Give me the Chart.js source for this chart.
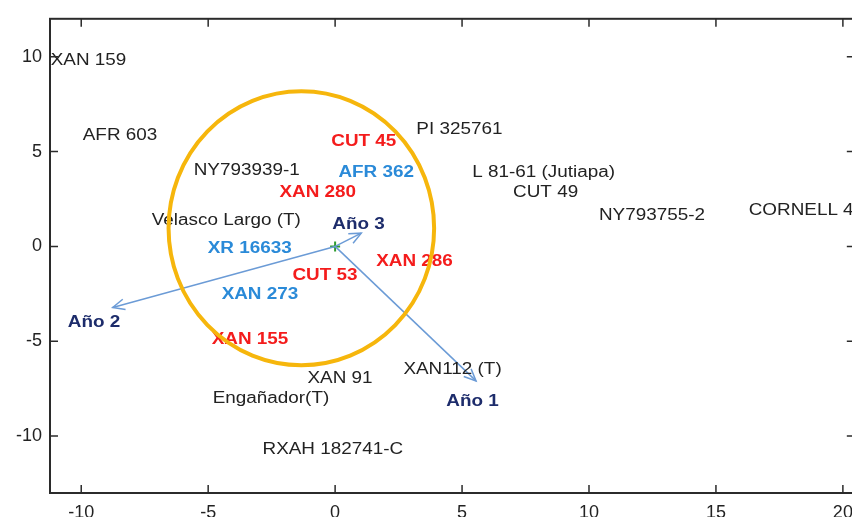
<!DOCTYPE html>
<html>
<head>
<meta charset="utf-8">
<script src="https://cdn.jsdelivr.net/npm/chart.js@4.4.0/dist/chart.umd.min.js"></script>
<style>
  html, body { margin: 0; padding: 0; background: #fff; overflow: hidden; }
  canvas { display: block; }
</style>
</head>
<body>
<canvas id="biplot" width="862" height="517"></canvas>
<script>
// === DATA ===
const blackNames = ["XAN 159", "AFR 603", "NY793939-1", "Velasco Largo (T)", "PI 325761", "L 81-61 (Jutiapa)",
  "CUT 49", "NY793755-2", "CORNELL 49242", "XAN 91", "Engañador(T)", "XAN112 (T)", "RXAH 182741-C"];
const blackX = [-11.2, -9.94, -5.57, -7.22, 3.2, 5.4, 7.01, 10.39, 16.29, -1.09, -4.82, 2.69, -2.86];
const blackY = [9.8, 5.83, 4.0, 1.38, 6.14, 3.89, 2.85, 1.64, 1.9, -6.99, -8.02, -6.52, -10.69];

const redNames = ["CUT 45", "XAN 280", "XAN 286", "CUT 53", "XAN 155"];
const redX = [-0.15, -2.19, 1.62, -1.68, -4.86];
const redY = [5.51, 2.85, -0.82, -1.55, -4.9];

const blueNames = ["AFR 362", "XR 16633", "XAN 273"];
const blueX = [0.13, -5.02, -4.47];
const blueY = [3.89, -0.14, -2.54];

// year vectors: arrow tips and their labels
const yearNames = ["Año 1", "Año 2", "Año 3"];
const yearTipX = [5.55, -8.76, 1.03];
const yearTipY = [-7.09, -3.22, 0.7];
const yearLabelX = [4.38, -10.53, -0.11];
const yearLabelY = [-8.18, -4.03, 1.17];

// highlighted group (ellipse)
const ellipseCenter = [-1.33, 0.96];
const ellipseRadius = [5.23, 7.22];

const xTickValues = [-10, -5, 0, 5, 10, 15, 20];
const yTickValues = [-10, -5, 0, 5, 10];

const pts = (xs, ys) => xs.map((x, i) => ({ x: x, y: ys[i] }));
const STRETCH = 1.18;

// === PLUGINS ===
const framePlugin = {
  id: "frame",
  afterDraw(chart) {
    const { ctx, chartArea: a, scales } = chart;
    ctx.save();
    ctx.strokeStyle = "#2b2b2b";
    ctx.lineWidth = 2;
    ctx.strokeRect(a.left, a.top, a.right - a.left, a.bottom - a.top);
    ctx.lineWidth = 1.5;
    const tl = 8;
    scales.x.ticks.forEach(t => {
      const px = scales.x.getPixelForValue(t.value);
      ctx.beginPath();
      ctx.moveTo(px, a.bottom); ctx.lineTo(px, a.bottom - tl);
      ctx.moveTo(px, a.top); ctx.lineTo(px, a.top + tl);
      ctx.stroke();
    });
    scales.y.ticks.forEach(t => {
      const py = scales.y.getPixelForValue(t.value);
      ctx.beginPath();
      ctx.moveTo(a.left, py); ctx.lineTo(a.left + tl, py);
      ctx.moveTo(a.right, py); ctx.lineTo(a.right - tl, py);
      ctx.stroke();
    });
    ctx.restore();
  }
};

const textPlugin = {
  id: "pointText",
  afterDatasetsDraw(chart) {
    const { ctx } = chart;
    chart.data.datasets.forEach((ds, di) => {
      if (!ds.names) return;
      const meta = chart.getDatasetMeta(di);
      ctx.save();
      ctx.font = ds.font;
      ctx.fillStyle = ds.textColor;
      ctx.textAlign = "left";
      ctx.textBaseline = "middle";
      meta.data.forEach((el, i) => {
        ctx.save();
        ctx.translate(el.x, el.y);
        ctx.scale(STRETCH, 1);
        ctx.fillText(ds.names[i], 0, 0);
        ctx.restore();
      });
      ctx.restore();
    });
  }
};

const arrowPlugin = {
  id: "arrowHeads",
  afterDatasetsDraw(chart) {
    const { ctx } = chart;
    chart.data.datasets.forEach((ds, di) => {
      if (!ds.isArrow) return;
      const meta = chart.getDatasetMeta(di);
      const p0 = meta.data[0], p1 = meta.data[1];
      const ang = Math.atan2(p1.y - p0.y, p1.x - p0.x);
      const len = 13, spread = 0.42;
      ctx.save();
      ctx.strokeStyle = ds.borderColor;
      ctx.lineWidth = 1.5;
      ctx.beginPath();
      ctx.moveTo(p1.x - len * Math.cos(ang - spread), p1.y - len * Math.sin(ang - spread));
      ctx.lineTo(p1.x, p1.y);
      ctx.lineTo(p1.x - len * Math.cos(ang + spread), p1.y - len * Math.sin(ang + spread));
      ctx.stroke();
      ctx.restore();
    });
  }
};

const ellipsePlugin = {
  id: "groupEllipse",
  afterDatasetsDraw(chart) {
    const { ctx, scales } = chart;
    const cx = scales.x.getPixelForValue(ellipseCenter[0]);
    const cy = scales.y.getPixelForValue(ellipseCenter[1]);
    const rx = Math.abs(scales.x.getPixelForValue(ellipseCenter[0] + ellipseRadius[0]) - cx);
    const ry = Math.abs(scales.y.getPixelForValue(ellipseCenter[1] + ellipseRadius[1]) - cy);
    ctx.save();
    ctx.strokeStyle = "#f6b60c";
    ctx.lineWidth = 4;
    ctx.beginPath();
    ctx.ellipse(cx, cy, rx, ry, 0, 0, Math.PI * 2);
    ctx.stroke();
    ctx.restore();
  }
};

// === CHART ===
const arrowColor = "#6b9bd6";
const arrowSets = yearNames.map((n, i) => ({
  type: "line",
  label: n,
  isArrow: true,
  data: [{ x: 0, y: 0 }, { x: yearTipX[i], y: yearTipY[i] }],
  borderColor: arrowColor,
  borderWidth: 1.5,
  pointRadius: 0,
  fill: false
}));

const tickFont = { family: "'Liberation Sans', Arial, sans-serif", size: 18 };

new Chart(document.getElementById("biplot"), {
  type: "scatter",
  data: {
    datasets: [
      ...arrowSets,
      { label: "origen", data: [{ x: 0, y: 0 }], pointStyle: "cross", pointRadius: 5,
        borderColor: "#2e9b2e", borderWidth: 2 },
      { label: "negro", names: blackNames, data: pts(blackX, blackY), pointRadius: 0,
        font: "16px 'Liberation Sans', Arial, sans-serif", textColor: "#222" },
      { label: "rojo", names: redNames, data: pts(redX, redY), pointRadius: 0,
        font: "bold 16px 'Liberation Sans', Arial, sans-serif", textColor: "#f41c1c" },
      { label: "azul", names: blueNames, data: pts(blueX, blueY), pointRadius: 0,
        font: "bold 16px 'Liberation Sans', Arial, sans-serif", textColor: "#2a8ad8" },
      { label: "años", names: yearNames, data: pts(yearLabelX, yearLabelY), pointRadius: 0,
        font: "bold 16px 'Liberation Sans', Arial, sans-serif", textColor: "#1d2c6b" }
    ]
  },
  options: {
    responsive: false,
    animation: false,
    events: [],
    layout: { padding: { top: 15, right: 6, left: 0, bottom: 0 } },
    plugins: { legend: { display: false }, tooltip: { enabled: false } },
    scales: {
      x: {
        type: "linear",
        min: -11.23, max: 20.47,
        grid: { display: false, drawTicks: false },
        border: { display: false },
        ticks: { padding: 9, color: "#222", font: tickFont },
        afterBuildTicks: s => { s.ticks = xTickValues.map(v => ({ value: v })); },
        afterFit: s => { s.height = 24; }
      },
      y: {
        type: "linear",
        min: -13, max: 12,
        grid: { display: false, drawTicks: false },
        border: { display: false },
        ticks: { padding: 8, color: "#222", font: tickFont },
        afterBuildTicks: s => { s.ticks = yTickValues.map(v => ({ value: v })); },
        afterFit: s => { s.width = 50; }
      }
    }
  },
  plugins: [framePlugin, textPlugin, arrowPlugin, ellipsePlugin]
});
</script>
</body>
</html>
